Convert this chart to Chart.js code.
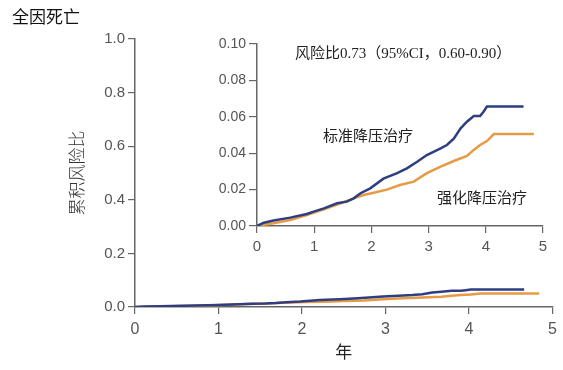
<!DOCTYPE html>
<html>
<head>
<meta charset="utf-8">
<script src="https://cdn.jsdelivr.net/npm/chart.js@4/dist/chart.umd.min.js"></script>
<style>
  body { margin: 0; background: #fff; }
  #wrap { position: relative; width: 563px; height: 370px; }
  #main { position: absolute; left: 0; top: 0; }
  #inset { position: absolute; left: 200px; top: 30px; }
</style>
</head>
<body>
<div id="wrap">
  <canvas id="main" width="563" height="370"></canvas>
  <canvas id="inset" width="355" height="230"></canvas>
</div>
<script>
// cumulative hazard, all-cause death (years vs risk)
var stdYears = [0, 0.12, 0.29, 0.58, 0.87, 0.99, 1.17, 1.40, 1.57, 1.69, 1.81, 1.98, 2.21, 2.45, 2.62, 2.80, 2.97, 3.21, 3.32, 3.44, 3.56, 3.67, 3.79, 3.90, 3.96, 4.02, 4.66];
var stdRisk  = [0, 0.0018, 0.003, 0.0046, 0.0066, 0.0079, 0.0097, 0.0125, 0.0134, 0.0152, 0.018, 0.0207, 0.026, 0.029, 0.0317, 0.0353, 0.039, 0.0427, 0.0445, 0.048, 0.0537, 0.0573, 0.0604, 0.0604, 0.0628, 0.0656, 0.0656];

var intYears = [0, 0.29, 0.58, 0.87, 1.17, 1.46, 1.69, 1.86, 2.04, 2.27, 2.50, 2.74, 2.97, 3.21, 3.44, 3.67, 3.79, 3.90, 4.02, 4.14, 4.84];
var intRisk  = [0, 0.0015, 0.0033, 0.006, 0.0092, 0.0125, 0.0152, 0.017, 0.0183, 0.020, 0.0225, 0.0244, 0.029, 0.0326, 0.0357, 0.0385, 0.0418, 0.0445, 0.0467, 0.0505, 0.0505];

var chartTitle = '全因死亡';
var yTitle = '累积风险比';
var xTitle = '年';
var hrText = '风险比0.73（95%CI，0.60-0.90）';
var stdLabel = '标准降压治疗';
var intLabel = '强化降压治疗';

var blue = '#2f3e80';
var orange = '#e79a45';
var axisGrey = '#666';

function pts(xs, ys) {
    return xs.map(function (x, i) { return { x: x, y: ys[i] }; });
}

function datasets(w) {
    return [
        { label: stdLabel, data: pts(stdYears, stdRisk), borderColor: blue, borderWidth: w, pointRadius: 0, tension: 0, fill: false },
        { label: intLabel, data: pts(intYears, intRisk), borderColor: orange, borderWidth: w, pointRadius: 0, tension: 0, fill: false }
    ];
}

function axis(min, max, step, digits, fontSize, tickLen) {
    return {
        type: 'linear', min: min, max: max,
        ticks: { stepSize: step, color: '#555', padding: 3, font: { family: 'Liberation Sans', size: fontSize },
                 callback: function (v) { return digits == null ? v : Number(v).toFixed(digits); } },
        grid: { drawOnChartArea: false, drawTicks: true, tickLength: tickLen, color: axisGrey, lineWidth: 1.2 },
        border: { display: true, color: axisGrey, width: 1.5 }
    };
}

Chart.defaults.animation = false;

// main chart
var xMain = axis(0, 5, 1, null, 16, 7);
xMain.ticks.padding = 6;
xMain.title = { display: true, text: xTitle, color: '#222', font: { family: 'Noto Sans CJK SC', size: 17 }, padding: { top: 0, bottom: 8 } };
xMain.afterFit = function (s) { s.height = 63; };
var yMain = axis(0, 1, 0.2, 1, 15, 7);
yMain.title = { display: true, text: yTitle, color: '#333', font: { family: 'Noto Sans CJK SC', size: 17, weight: '300' }, padding: { top: 66, bottom: 0 } };
yMain.afterFit = function (s) { s.width = 135; };

var titlePlugin = {
    id: 'titleText',
    afterDraw: function (c) {
        var ctx = c.ctx;
        ctx.save();
        ctx.fillStyle = '#111';
        ctx.font = '17px "Noto Sans CJK SC"';
        ctx.textBaseline = 'middle';
        ctx.fillText(chartTitle, 12, 17);
        ctx.restore();
    }
};

new Chart(document.getElementById('main'), {
    type: 'line',
    data: { datasets: datasets(2.5) },
    options: {
        responsive: false,
        layout: { padding: { top: 39, right: 10, left: 0, bottom: 0 } },
        plugins: { legend: { display: false }, tooltip: { enabled: false } },
        scales: { x: xMain, y: yMain }
    },
    plugins: [titlePlugin]
});

// inset chart
var xIn = axis(0, 5, 1, null, 15, 7);
xIn.ticks.padding = 5;
xIn.afterFit = function (s) { s.height = 34; };
var yIn = axis(0, 0.1, 0.02, 2, 14, 8);
yIn.afterFit = function (s) { s.width = 57; };

var insetText = {
    id: 'insetText',
    afterDraw: function (c) {
        var ctx = c.ctx;
        ctx.save();
        ctx.fillStyle = '#222';
        ctx.textBaseline = 'middle';
        ctx.textAlign = 'left';
        ctx.font = '15px "Liberation Serif", "Noto Sans CJK SC"';
        ctx.fillText(hrText, 95, 24);
        ctx.font = '15px "Noto Sans CJK SC"';
        ctx.fillText(stdLabel, 123, 105);
        ctx.fillText(intLabel, 237, 167);
        ctx.restore();
    }
};

new Chart(document.getElementById('inset'), {
    type: 'line',
    data: { datasets: datasets(2.5) },
    options: {
        responsive: false,
        layout: { padding: { top: 14, right: 12, left: 0, bottom: 0 } },
        plugins: { legend: { display: false }, tooltip: { enabled: false } },
        scales: { x: xIn, y: yIn }
    },
    plugins: [insetText]
});
</script>
</body>
</html>
